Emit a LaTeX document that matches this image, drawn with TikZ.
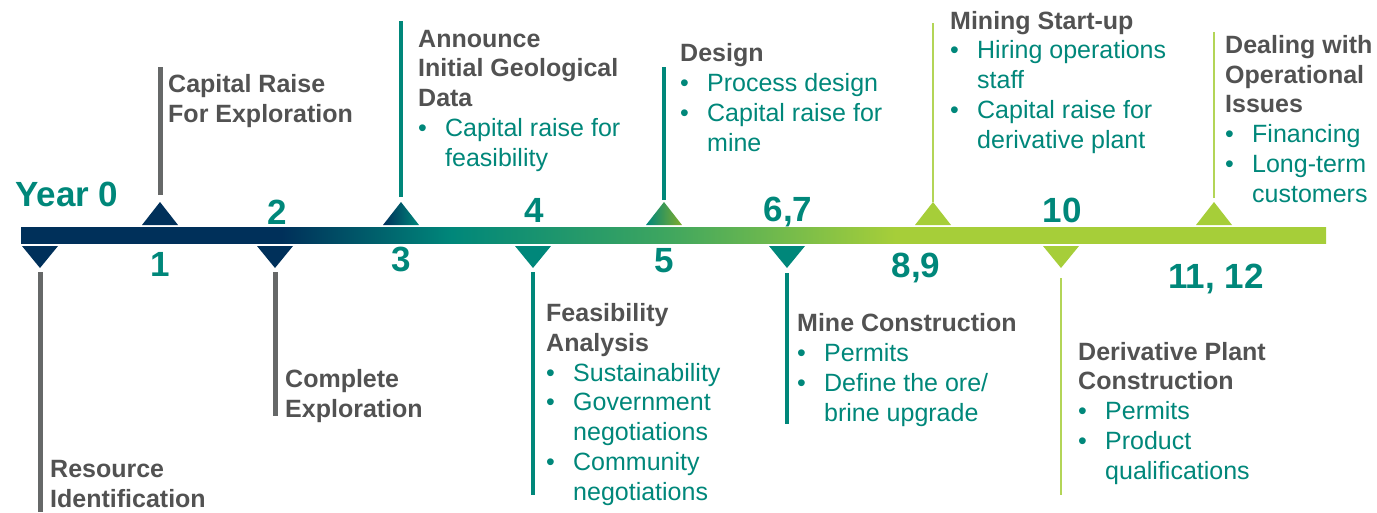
\documentclass[tikz,border=0pt]{standalone}
\usepackage{fontspec}
\setmainfont{Liberation Sans}
\usetikzlibrary{positioning}
\definecolor{tlnavy}{HTML}{00305A}
\definecolor{tlteal}{HTML}{00877A}
\definecolor{tlgreen}{HTML}{3CA560}
\definecolor{tlolive}{HTML}{80AC2C}
\definecolor{tllime}{HTML}{A6CE39}
\definecolor{tltext}{HTML}{525252}
\definecolor{tlstem}{HTML}{666868}
\pgfdeclarehorizontalshading{barshade}{100bp}{color(0bp)=(tlnavy); color(35bp)=(tlnavy); color(41.5bp)=(tlteal); color(49.5bp)=(tlgreen); color(58.5bp)=(tllime); color(100bp)=(tllime)}
\newcommand{\hd}[1]{\textcolor{tltext}{\bfseries #1}}
\newcommand{\itm}[1]{\textcolor{tlteal}{\makebox[27pt][l]{\textbullet}#1}}
\newcommand{\cnt}[1]{\textcolor{tlteal}{\hspace*{27pt}#1}}

\begin{document}
\begin{tikzpicture}[x=1pt,y=-1pt,
  phase/.style={anchor=base west,align=left,inner sep=0pt,font=\fontsize{25}{29.7}\selectfont},
  yearno/.style={anchor=base,inner sep=0pt,text=tlteal,font=\bfseries\fontsize{35}{40}\selectfont},
  stemgray/.style={line width=5pt,tlstem},
  stemteal/.style={line width=4pt,tlteal},
  stemlime/.style={line width=2pt,tllime!85}]
\useasboundingbox (0,0) rectangle (1377,512);
% time bar
\shade[shading=barshade] (21,227) rectangle (1326,243);

% markers above the bar
\foreach \x/\c in {160/tlnavy,933/tllime,1214/tllime}
  \fill[\c] (\x-18,225) -- (\x+18,225) -- (\x,202) -- cycle;
\shade[left color=tlnavy,right color=tlteal] (383,225) -- (419,225) -- (401,202) -- cycle;
\shade[left color=tlteal,right color=tlolive] (646,225) -- (682,225) -- (664,202) -- cycle;
% markers below the bar
\foreach \x/\c in {40/tlnavy,275/tlnavy,533/tlteal,787/tlteal,1061/tllime}
  \fill[\c] (\x-18,246) -- (\x+18,246) -- (\x,268) -- cycle;

% stems
\foreach \n/\x/\ya/\yb/\s in {0/40/272/512/stemgray,1/160/195/67/stemgray,2/275/272/416/stemgray,
    3/401/197/21/stemteal,4/533/272/495/stemteal,5/664/200/67/stemteal,6/787/273/424/stemteal,
    8/933/202/23/stemlime,10/1061/278/495/stemlime,11/1214/198/32/stemlime}{
  \coordinate (m\n) at (\x,\ya);
  \coordinate (e\n) at (\x,\yb);
  \draw[\s] (m\n) -- (e\n);
}

% years
\node[yearno,anchor=base west] (yr0) at (15,206) {Year 0};
\node[yearno] (yr1) at (160,276) {1};
\node[yearno] (yr2) at (277,224) {2};
\node[yearno] (yr3) at (401,271) {3};
\node[yearno] (yr4) at (534,222) {4};
\node[yearno] (yr5) at (664,272) {5};
\node[yearno] (yr67) at (788,221) {6,7};
\node[yearno] (yr89) at (916,277) {8,9};
\node[yearno] (yr10) at (1062,222) {10};
\node[yearno] (yr1112) at (1216,288) {11, 12};

% phases (placed at the baseline of their last line)
\node[phase] (resource) at (50,507) {\hd{Resource}\\\hd{Identification}};
\node[phase] (capraise) at (168,122) {\hd{Capital Raise}\\\hd{For Exploration}};
\node[phase] (complete) at (285,417) {\hd{Complete}\\\hd{Exploration}};
\node[phase] (announce) at (418,166) {\hd{Announce}\\\hd{Initial Geological}\\\hd{Data}\\\itm{Capital raise for}\\\cnt{feasibility}};
\node[phase] (feasib) at (546,500) {\hd{Feasibility}\\\hd{Analysis}\\\itm{Sustainability}\\\itm{Government}\\\cnt{negotiations}\\\itm{Community}\\\cnt{negotiations}};
\node[phase] (design) at (680,151) {\hd{Design}\\\itm{Process design}\\\itm{Capital raise for}\\\cnt{mine}};
\node[phase] (mineconst) at (797,421) {\hd{Mine Construction}\\\itm{Permits}\\\itm{Define the ore/}\\\cnt{brine upgrade}};
\node[phase] (startup) at (950,148) {\hd{Mining Start-up}\\\itm{Hiring operations}\\\cnt{staff}\\\itm{Capital raise for}\\\cnt{derivative plant}};
\node[phase] (derivplant) at (1078,479) {\hd{Derivative Plant}\\\hd{Construction}\\\itm{Permits}\\\itm{Product}\\\cnt{qualifications}};
\node[phase] (dealing) at (1225,202) {\hd{Dealing with}\\\hd{Operational}\\\hd{Issues}\\\itm{Financing}\\\itm{Long-term}\\\cnt{customers}};
\end{tikzpicture}
\end{document}
